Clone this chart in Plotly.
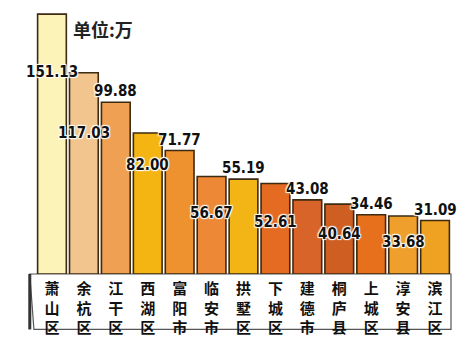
import plotly.graph_objects as go

categories = ["萧山区", "余杭区", "江干区", "西湖区", "富阳市", "临安市", "拱墅区",
              "下城区", "建德市", "桐庐县", "上城区", "淳安县", "滨江区"]
values = [151.13, 117.03, 99.88, 82.00, 71.77, 56.67, 55.19,
          52.61, 43.08, 40.64, 34.46, 33.68, 31.09]
value_labels = ["151.13", "117.03", "99.88", "82.00", "71.77", "56.67", "55.19",
                "52.61", "43.08", "40.64", "34.46", "33.68", "31.09"]
bar_colors = ["#FBF3B8", "#F3C58E", "#EFA053", "#F4B412", "#EE9230", "#EC8836", "#F3B516",
              "#E56A22", "#D8642A", "#CF5E22", "#E6701C", "#EFA02C", "#EFA222"]
# label offset (pixels) relative to bar top: negative = inside bar, positive = above
label_shift = [-58, -60, 11, -32, 11, -36, 11, -38, 11, -30, 11, -26, 11]

tick_text = ["<br>".join(list(c)) for c in categories]

fig = go.Figure()
fig.add_trace(go.Bar(
    x=categories, y=values,
    marker=dict(color=bar_colors, line=dict(color="#3d2a12", width=1.6)),
    hoverinfo="x+y",
))

for c, v, t, s in zip(categories, values, value_labels, label_shift):
    fig.add_annotation(
        x=c, y=v, text=t, showarrow=False, yshift=s, yanchor="middle",
        font=dict(family="DejaVu Sans Condensed, Liberation Sans Narrow, sans-serif", size=15,
                  color="#111111", weight="bold",
                  shadow="1px 1px 1px white, -1px -1px 1px white, 1px -1px 1px white, -1px 1px 1px white"),
    )

fig.add_annotation(
    xref="paper", yref="paper", x=0.085, y=0.927, xanchor="left", yanchor="middle",
    text="单位:万", showarrow=False,
    font=dict(family="Noto Sans CJK SC", size=18, color="#222222", weight="bold"),
)

# base slab under category labels
fig.add_shape(type="path", xref="paper", yref="paper",
              path="M -0.015 0 L 1.0 0 L 1.0 -0.21 L -0.005 -0.21 Z",
              line=dict(color="#555555", width=1.2), fillcolor="rgba(255,255,255,0)", layer="below")
fig.add_shape(type="line", xref="paper", yref="paper", x0=-0.015, y0=0, x1=-0.015, y1=-0.21,
              line=dict(color="#333333", width=3))

fig.update_layout(
    width=468, height=347,
    margin=dict(l=36, r=17, t=10, b=62),
    paper_bgcolor="white", plot_bgcolor="white",
    bargap=0.1, showlegend=False,
    xaxis=dict(tickmode="array", tickvals=categories, ticktext=tick_text,
               tickfont=dict(family="Noto Sans CJK SC", size=15, color="#111111", weight="bold"),
               ticklabelstandoff=4,
               showline=False, showgrid=False, ticks="", range=[-0.5, 12.5]),
    yaxis=dict(range=[0, 153.5], visible=False, showgrid=False),
)

fig.write_html("out.html")
